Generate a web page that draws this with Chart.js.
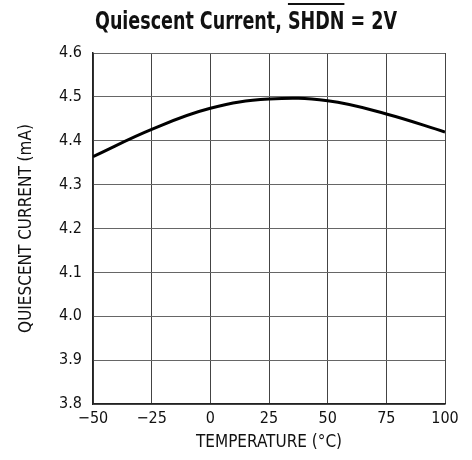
<!DOCTYPE html>
<html>
<head>
<meta charset="utf-8">
<script src="https://cdn.jsdelivr.net/npm/chart.js@4"></script>
<style>
	html, body { margin: 0; padding: 0; background: #fff; }
	#wrap { width: 472px; height: 460px; }
</style>
</head>
<body>
<div id="wrap"><canvas id="myChart"></canvas></div>
<script>
const temps = [-50, -25, 0, 25, 50, 75, 100];
const current = [4.364, 4.426, 4.474, 4.495, 4.491, 4.461, 4.42];
const xTicks = [-50, -25, 0, 25, 50, 75, 100];
const yTicks = [3.8, 3.9, 4.0, 4.1, 4.2, 4.3, 4.4, 4.5, 4.6];

const FONT = "'Liberation Sans Narrow', 'DejaVu Sans Condensed', 'Arial Narrow', sans-serif";

// title with overline on SHDN, squeezed to look like a condensed face
const titlePlugin = {
	id: 'shdnTitle',
	afterDraw(chart) {
		let ctx = chart.ctx;
		ctx.save();
		ctx.font = "bold 24px " + FONT;
		ctx.fillStyle = '#111';
		ctx.textBaseline = 'alphabetic';
		let a = "Quiescent Current, ";
		let b = "SHDN";
		let c = " = 2V";
		let wa = ctx.measureText(a).width;
		let wb = ctx.measureText(b).width;
		let wc = ctx.measureText(c).width;
		let total = wa + wb + wc;
		let sx = 302 / total;
		ctx.translate(95, 0);
		ctx.scale(sx, 1);
		let y = 29;
		ctx.fillText(a, 0, y);
		ctx.fillText(b, wa, y);
		ctx.fillText(c, wa + wb, y);
		ctx.fillRect(wa, 3, wb, 2);
		ctx.restore();
	}
};

let ctx = document.getElementById('myChart').getContext('2d');
let chart = new Chart(ctx, {
	type: 'line',
	data: {
		datasets: [{
			data: temps.map((t, i) => ({ x: t, y: current[i] })),
			borderColor: '#000',
			borderWidth: 3,
			pointRadius: 0,
			tension: 0.4,
			fill: false
		}]
	},
	options: {
		responsive: true,
		maintainAspectRatio: false,
		animation: false,
		layout: { padding: { top: 53, right: 27, left: 0, bottom: 7 } },
		plugins: {
			legend: { display: false },
			tooltip: { enabled: false }
		},
		scales: {
			x: {
				type: 'linear',
				min: -50,
				max: 100,
				afterBuildTicks: (s) => { s.ticks = xTicks.map(v => ({ value: v })); },
				afterFit: (s) => { s.height = 49; },
				ticks: {
					color: '#111',
					font: { family: FONT, size: 16 },
					padding: 5,
					callback: (v) => v < 0 ? '\u2212' + Math.abs(v) : '' + v
				},
				grid: { color: '#444', lineWidth: 1, drawTicks: false },
				border: { color: '#222', width: 1.5 },
				title: {
					display: true,
					text: 'TEMPERATURE (\u00b0C)',
					color: '#111',
					font: { family: FONT, size: 17 },
					padding: { top: 2, bottom: 0 }
				}
			},
			y: {
				min: 3.8,
				max: 4.6,
				afterBuildTicks: (s) => { s.ticks = yTicks.map(v => ({ value: v })); },
				afterFit: (s) => { s.width = 93; },
				ticks: {
					color: '#111',
					font: { family: FONT, size: 16 },
					padding: 11,
					callback: (v) => v.toFixed(1)
				},
				grid: { color: '#666', lineWidth: 1, drawTicks: false },
				border: { color: '#222', width: 1.5 },
				title: {
					display: true,
					text: 'QUIESCENT CURRENT (mA)',
					color: '#111',
					font: { family: FONT, size: 17 },
					padding: { top: 16, bottom: 0 }
				}
			}
		}
	},
	plugins: [titlePlugin]
});
</script>
</body>
</html>
